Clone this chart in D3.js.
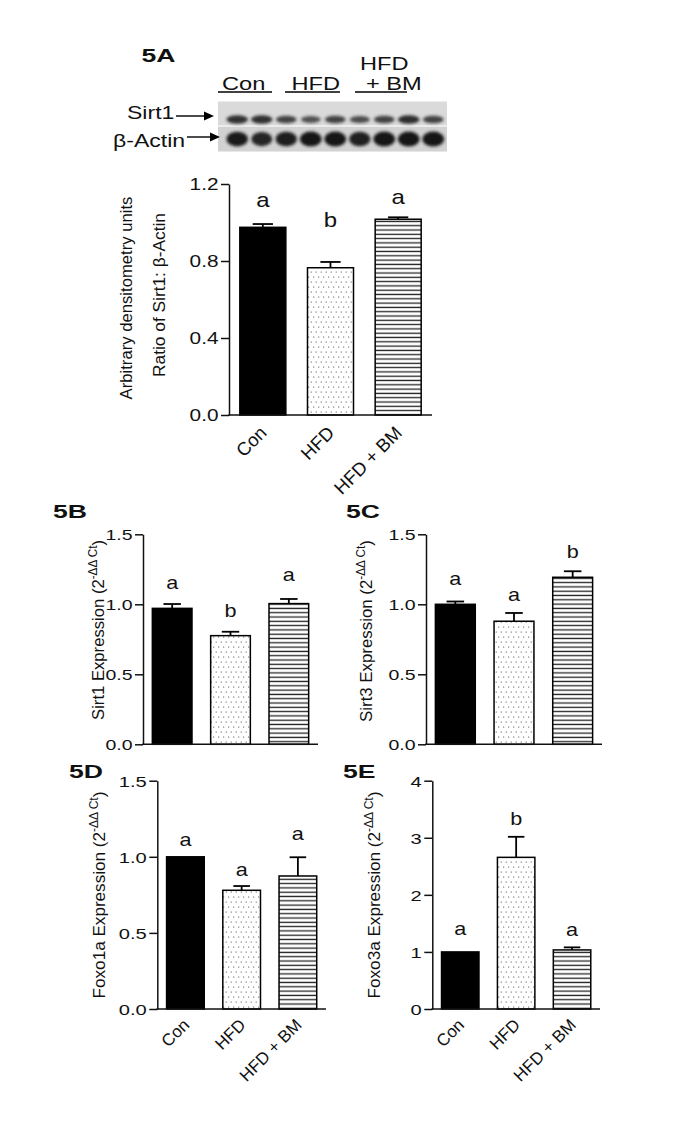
<!DOCTYPE html>
<html><head><meta charset="utf-8">
<script src="https://cdn.jsdelivr.net/npm/d3@7"></script>
<style>
body{margin:0;background:#fff}
text{font-family:"Liberation Sans",Arial,Helvetica,sans-serif;fill:#111}
</style>
</head><body>
<svg id="chart" width="685" height="1142"></svg>
<script>
// ---------- data ----------
const groups = ["Con", "HFD", "HFD + BM"];

// 5A  Sirt1 : beta-actin densitometry
const sirt1Ratio    = [0.975, 0.765, 1.017];
const sirt1RatioErr = [0.017, 0.030, 0.010];
const sirt1RatioSig = ["a", "b", "a"];
const sirt1RatioSigY = [1.082, 0.978, 1.094];
const ticks5A = [0, 0.4, 0.8, 1.2];

// 5B  Sirt1 expression
const sirt1Expr    = [0.971, 0.776, 1.005];
const sirt1ExprErr = [0.031, 0.028, 0.033];
const sirt1ExprSig = ["a", "b", "a"];
const sirt1ExprSigY = [1.107, 0.911, 1.167];

// 5C  Sirt3 expression
const sirt3Expr    = [1.000, 0.879, 1.193];
const sirt3ExprErr = [0.020, 0.059, 0.043];
const sirt3ExprSig = ["a", "a", "b"];
const sirt3ExprSigY = [1.138, 1.024, 1.329];

// 5D  Foxo1a expression
const foxo1aExpr    = [1.000, 0.780, 0.874];
const foxo1aExprErr = [0.000, 0.028, 0.123];
const foxo1aExprSig = ["a", "a", "a"];
const foxo1aExprSigY = [1.071, 0.874, 1.110];

// 5E  Foxo3a expression
const foxo3aExpr    = [1.000, 2.657, 1.035];
const foxo3aExprErr = [0.000, 0.360, 0.045];
const foxo3aExprSig = ["a", "b", "a"];
const foxo3aExprSigY = [1.297, 3.22, 1.279];

const ticks15 = [0, 0.5, 1.0, 1.5];
const ticks4  = [0, 1, 2, 3, 4];

// western blot: relative band density per lane (9 lanes)
const blotSirt1Band = [0.92, 0.92, 0.78, 0.62, 0.78, 0.70, 0.78, 0.95, 0.78];
const blotActinBand = [0.95, 0.85, 0.92, 1.00, 1.00, 0.90, 1.00, 1.00, 1.00];

// ---------- drawing ----------
const svg = d3.select("#chart");
const SX = 1.3; // horizontal stretch of the original figure's text

const defs = svg.append("defs");
const dots = defs.append("pattern").attr("id","dots").attr("patternUnits","userSpaceOnUse")
  .attr("width",5).attr("height",10);
dots.append("rect").attr("width",5).attr("height",10).attr("fill","#fff");
dots.append("circle").attr("cx",1.2).attr("cy",2).attr("r",0.6).attr("fill","#333");
dots.append("circle").attr("cx",3.7).attr("cy",7).attr("r",0.6).attr("fill","#333");
const hl = defs.append("pattern").attr("id","hlines").attr("patternUnits","userSpaceOnUse")
  .attr("width",6).attr("height",4.3);
hl.append("rect").attr("width",6).attr("height",4.3).attr("fill","#fff");
hl.append("line").attr("x1",0).attr("x2",6).attr("y1",2.1).attr("y2",2.1)
  .attr("stroke","#222").attr("stroke-width",1.3);
const blur = defs.append("filter").attr("id","blur").attr("x","-50%").attr("y","-50%")
  .attr("width","200%").attr("height","200%");
blur.append("feGaussianBlur").attr("stdDeviation",1.6);

const fills = ["#000", "url(#dots)", "url(#hlines)"];

function stext(g, x, y, str, o = {}) {
  const t = g.append("text")
    .attr("transform", `translate(${x},${y}) scale(${o.sx ?? SX},1)`)
    .attr("text-anchor", o.anchor || "start")
    .style("font-size", (o.size || 16) + "px")
    .style("font-weight", o.weight || "normal")
    .text(str);
  return t;
}

// rotated y label with superscript, fitted to target length
function ylabel(g, x, cy, main, sup, len, size) {
  const t = g.append("text").attr("text-anchor","middle")
    .style("font-size", size + "px");
  t.append("tspan").text(main);
  if (sup) {
    t.append("tspan").attr("dy", -size*0.42).style("font-size", (size*0.7)+"px").text(sup);
    t.append("tspan").attr("dy", size*0.42).text(")");
  }
  const L = t.node().getComputedTextLength();
  const k = len / L;
  t.attr("transform", `translate(${x},${cy}) rotate(-90) scale(${k},1)`);
  return t;
}

function panel(cfg) {
  const g = svg.append("g");
  const y = d3.scaleLinear().domain([0, cfg.max]).range([cfg.y0, cfg.y1]);
  const x = d3.scaleBand().domain(groups).range([cfg.x0, cfg.x1])
    .paddingInner(cfg.pad).paddingOuter(cfg.pad/2);
  const bw = x.bandwidth();

  // bars
  g.selectAll("rect.bar").data(cfg.vals).join("rect").attr("class","bar")
    .attr("x", (d,i) => x(groups[i]))
    .attr("width", bw)
    .attr("y", d => y(d))
    .attr("height", d => y(0) - y(d))
    .attr("fill", (d,i) => fills[i])
    .attr("stroke","#000").attr("stroke-width",1.5);

  // error bars (upper)
  cfg.vals.forEach((v,i) => {
    const e = cfg.err[i];
    if (!e) return;
    const cx = x(groups[i]) + bw/2;
    g.append("line").attr("x1",cx).attr("x2",cx).attr("y1",y(v)).attr("y2",y(v+e))
      .attr("stroke","#000").attr("stroke-width",1.8);
    g.append("line").attr("x1",cx - bw*0.22).attr("x2",cx + bw*0.22)
      .attr("y1",y(v+e)).attr("y2",y(v+e)).attr("stroke","#000").attr("stroke-width",1.8);
  });

  // significance letters
  cfg.sig.forEach((s,i) => {
    stext(g, x(groups[i]) + bw/2, y(cfg.sigY[i]), s, {anchor:"middle", size: cfg.sigFont, sx:1.2});
  });

  // y axis
  const ya = g.append("g").attr("transform", `translate(${cfg.x0},0)`)
    .call(d3.axisLeft(y).tickValues(cfg.ticks).tickSize(8).tickSizeOuter(0).tickPadding(3)
      .tickFormat(d3.format(cfg.fmt)));
  ya.select(".domain").attr("stroke","#111").attr("stroke-width",1.5);
  ya.selectAll(".tick line").attr("stroke","#111").attr("stroke-width",1.5);
  ya.selectAll(".tick text").attr("x",0).attr("dy","0.36em")
    .attr("transform", `translate(-10.5,0) scale(${SX},1)`)
    .style("font-size", cfg.tickFont + "px").attr("fill","#111");

  // x axis
  const xa = g.append("g").attr("transform", `translate(0,${cfg.y0})`)
    .call(d3.axisBottom(x).tickSize(0).tickSizeOuter(0)
      .tickFormat(cfg.xlabels ? (d => d) : () => ""));
  xa.select(".domain").attr("stroke","#111").attr("stroke-width",1.5)
    .attr("d", `M${cfg.x0 - 0.75},0H${cfg.x1}`);
  xa.selectAll(".tick text").attr("y",0).attr("dy",0).attr("x",0)
    .attr("text-anchor","end")
    .attr("transform", `translate(5,${cfg.xlabOff}) rotate(-45)`)
    .style("font-size", cfg.xlabFont + "px").attr("fill","#111");

  // panel title
  stext(svg, cfg.tx, cfg.ty, cfg.title, {size:19, weight:"bold", sx:1.4});
  return g;
}

// ---- Western blot (5A top) ----
const blot = svg.append("g");
const lane = d3.scaleBand().domain(d3.range(9)).range([225, 445.5]);
blot.append("rect").attr("x",218).attr("y",101.5).attr("width",229).attr("height",24)
  .attr("fill","#dadada");
blot.append("rect").attr("x",218).attr("y",127).attr("width",229).attr("height",24.5)
  .attr("fill","#d2d2d2");
blot.append("rect").attr("x",218).attr("y",125.5).attr("width",229).attr("height",1.5)
  .attr("fill","#ececec");
blot.append("g").attr("filter","url(#blur)").selectAll("ellipse").data(blotSirt1Band).join("ellipse")
  .attr("cx",(d,i) => lane(i) + lane.bandwidth()/2)
  .attr("cy",119.5)
  .attr("rx", d => 8 + 3*d)
  .attr("ry", d => 1.8 + 2.6*d)
  .attr("fill","#1e1e1e").attr("opacity", d => 0.35 + 0.6*d);
blot.append("g").attr("filter","url(#blur)").selectAll("ellipse").data(blotActinBand).join("ellipse")
  .attr("cx",(d,i) => lane(i) + lane.bandwidth()/2)
  .attr("cy",139)
  .attr("rx", d => 8 + 3*d)
  .attr("ry", d => 5 + 2.5*d)
  .attr("fill","#141414").attr("opacity", d => 0.5 + 0.5*d);

// blot labels and arrows
stext(svg, 127, 118.5, "Sirt1", {size:18, sx:1.28});
stext(svg, 113, 147, "β-Actin", {size:18, sx:1.28});
function arrow(x1, x2, yy) {
  svg.append("line").attr("x1",x1).attr("x2",x2-7).attr("y1",yy).attr("y2",yy)
    .attr("stroke","#000").attr("stroke-width",1.4);
  svg.append("path").attr("d",`M${x2},${yy}L${x2-10},${yy-4.5}L${x2-10},${yy+4.5}Z`).attr("fill","#000");
}
arrow(176, 214, 116);
arrow(187, 220, 137);

// lane group labels
stext(svg, 222, 90, "Con", {size:17.5, sx:1.35});
stext(svg, 291.5, 90, "HFD", {size:17.5, sx:1.35});
stext(svg, 360, 70, "HFD", {size:17.5, sx:1.35});
stext(svg, 366, 90, "+ BM", {size:17.5, sx:1.35});
[[218,272],[285,340],[355,407]].forEach(([a,b]) =>
  svg.append("line").attr("x1",a).attr("x2",b).attr("y1",92).attr("y2",92)
    .attr("stroke","#000").attr("stroke-width",1.3));

// ---- panels ----
panel({title:"5A", tx:141.5, ty:61.5, vals:sirt1Ratio, err:sirt1RatioErr, sig:sirt1RatioSig, sigY:sirt1RatioSigY,
  ticks:ticks5A, max:1.2, fmt:".1f", x0:229, x1:432, y0:415, y1:184, pad:0.32,
  xlabels:true, xlabOff:19, xlabFont:18.5, sigFont:20, tickFont:16});
panel({title:"5B", tx:53, ty:518, vals:sirt1Expr, err:sirt1ExprErr, sig:sirt1ExprSig, sigY:sirt1ExprSigY,
  ticks:ticks15, max:1.5, fmt:".1f", x0:143, x1:318, y0:744.3, y1:534.3, pad:0.32,
  xlabels:false, xlabOff:18, xlabFont:16, sigFont:18, tickFont:15});
panel({title:"5C", tx:346, ty:518, vals:sirt3Expr, err:sirt3ExprErr, sig:sirt3ExprSig, sigY:sirt3ExprSigY,
  ticks:ticks15, max:1.5, fmt:".1f", x0:426, x1:602, y0:744.3, y1:534.3, pad:0.32,
  xlabels:false, xlabOff:18, xlabFont:16, sigFont:18, tickFont:15});
panel({title:"5D", tx:69, ty:778, vals:foxo1aExpr, err:foxo1aExprErr, sig:foxo1aExprSig, sigY:foxo1aExprSigY,
  ticks:ticks15, max:1.5, fmt:".1f", x0:157.3, x1:326, y0:1009, y1:780.7, pad:0.33,
  xlabels:true, xlabOff:17, xlabFont:17, sigFont:18, tickFont:15.5});
panel({title:"5E", tx:343, ty:778, vals:foxo3aExpr, err:foxo3aExprErr, sig:foxo3aExprSig, sigY:foxo3aExprSigY,
  ticks:ticks4, max:4, fmt:"d", x0:432.3, x1:600, y0:1009, y1:780.7, pad:0.33,
  xlabels:true, xlabOff:17, xlabFont:17, sigFont:18, tickFont:15.5});

// ---- y-axis titles ----
ylabel(svg, 132, 298, "Arbitrary densitometry units", null, 203, 16);
ylabel(svg, 165, 295, "Ratio of Sirt1: β-Actin", null, 164, 16);
ylabel(svg, 104, 630, "Sirt1 Expression (2", "-ΔΔ Ct", 180, 17);
ylabel(svg, 372, 631, "Sirt3 Expression (2", "-ΔΔ Ct", 182, 17);
ylabel(svg, 105, 895, "Foxo1a Expression (2", "-ΔΔ Ct", 207, 17);
ylabel(svg, 380, 895, "Foxo3a Expression (2", "-ΔΔ Ct", 207, 17);
</script>
</body></html>
